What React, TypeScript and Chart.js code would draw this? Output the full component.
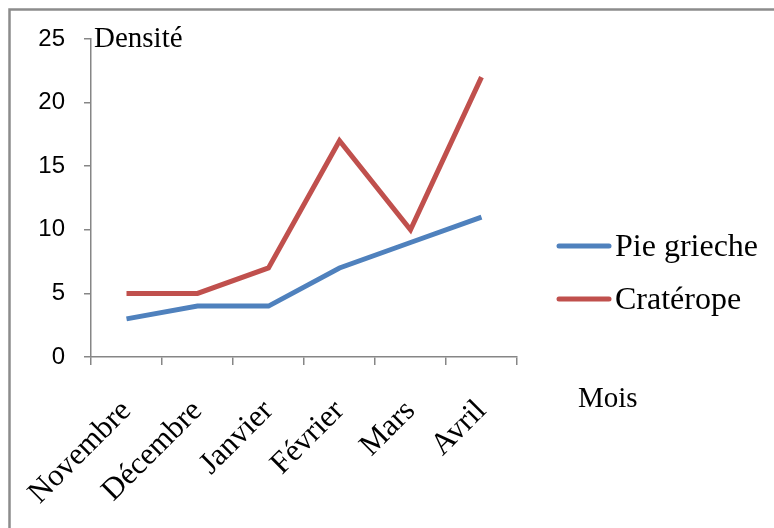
import React, { useEffect, useRef } from "react";
import { Chart, registerables } from "chart.js";

Chart.register(...registerables);

// Monthly density of the two bird species
const months = ["Novembre", "Décembre", "Janvier", "Février", "Mars", "Avril"];
const pieGrieche = [3, 4, 4, 7, 9, 11];
const craterope = [5, 5, 7, 17, 10, 22];
const seriesNames = ["Pie grieche", "Cratérope"];
const seriesColors = ["#4F81BD", "#C0504D"];
const yMin = 0;
const yMax = 25;
const yStep = 5;
const yTitle = "Densité";
const xTitle = "Mois";

const AXIS = "#868686";
const SERIF = "'Liberation Serif', 'Times New Roman', serif";
const NARROW = "'Liberation Sans Narrow', 'Arial Narrow', 'Liberation Sans', sans-serif";

// Frame, axis titles and a line-sample legend drawn beside the plot
const decorations = {
  id: "decorations",
  afterDraw(chart: any) {
    const { ctx, chartArea } = chart;
    ctx.save();

    // outer frame (top and left edges)
    ctx.strokeStyle = "#8c8c8c";
    ctx.lineWidth = 2.5;
    ctx.beginPath();
    ctx.moveTo(chart.width, 9.5);
    ctx.lineTo(9.5, 9.5);
    ctx.lineTo(9.5, chart.height);
    ctx.stroke();

    ctx.fillStyle = "#000";
    ctx.textBaseline = "alphabetic";
    ctx.textAlign = "left";
    ctx.font = `29px ${SERIF}`;
    ctx.fillText(yTitle, chartArea.left + 3, chartArea.top + 8);
    ctx.fillText(xTitle, chartArea.right + 61, chartArea.bottom + 50);

    // legend
    const lx = chartArea.right + 40;
    const ly = chartArea.top + 207;
    const rowGap = 53;
    ctx.font = `32px ${SERIF}`;
    chart.data.datasets.forEach((ds: any, i: number) => {
      const y = ly + i * rowGap;
      ctx.strokeStyle = ds.borderColor;
      ctx.lineWidth = 5;
      ctx.lineCap = "round";
      ctx.beginPath();
      ctx.moveTo(lx + 2, y);
      ctx.lineTo(lx + 52, y);
      ctx.stroke();
      ctx.fillText(ds.label, lx + 58, y + 10);
    });
    ctx.restore();
  },
};

export default function App() {
  const ref = useRef<HTMLCanvasElement>(null);

  useEffect(() => {
    if (!ref.current) return;
    const chart = new Chart(ref.current, {
      type: "line",
      data: {
        labels: months,
        datasets: [pieGrieche, craterope].map((values, i) => ({
          label: seriesNames[i],
          data: values,
          borderColor: seriesColors[i],
          backgroundColor: seriesColors[i],
          borderWidth: 5,
          pointRadius: 0,
          tension: 0,
          borderJoinStyle: "miter" as const,
          borderCapStyle: "butt" as const,
        })),
      },
      options: {
        responsive: false,
        animation: false,
        layout: { padding: { left: 0, top: 39, right: 257, bottom: 0 } },
        plugins: { legend: { display: false }, tooltip: { enabled: false } },
        scales: {
          x: {
            offset: true,
            afterFit: (s: any) => {
              s.height = 171;
              s.paddingLeft = 0;
              s.paddingRight = 0;
            },
            grid: {
              offset: true,
              drawOnChartArea: false,
              drawTicks: true,
              tickLength: 8,
              color: AXIS,
              lineWidth: 1.5,
            },
            border: { display: true, color: AXIS, width: 1.5 },
            ticks: {
              autoSkip: false,
              maxRotation: 45,
              minRotation: 45,
              padding: 28,
              labelOffset: 0,
              color: "#000",
              font: { family: SERIF, size: 31 },
            },
          },
          y: {
            min: yMin,
            max: yMax,
            afterFit: (s: any) => {
              s.width = 91;
              s.paddingTop = 0;
              s.paddingBottom = 0;
            },
            grid: {
              drawOnChartArea: false,
              drawTicks: true,
              tickLength: 7,
              color: AXIS,
              lineWidth: 1.5,
            },
            border: { display: true, color: AXIS, width: 1.5 },
            ticks: {
              stepSize: yStep,
              padding: 19,
              color: "#000",
              font: { family: NARROW, size: 24 },
            },
          },
        },
      },
      plugins: [decorations],
    });
    return () => chart.destroy();
  }, []);

  return (
    <div style={{ position: "absolute", left: 0, top: 0, width: 774, height: 528, background: "#fff" }}>
      <canvas ref={ref} width={774} height={528} style={{ display: "block" }} />
    </div>
  );
}
